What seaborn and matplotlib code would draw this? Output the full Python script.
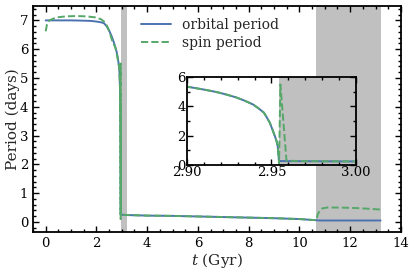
import numpy as np
import pandas as pd
import matplotlib
matplotlib.use("Agg")
import matplotlib.pyplot as plt
from matplotlib.ticker import MultipleLocator
import seaborn as sns

# values
orbit_t = [0.0, 0.5, 1.0, 1.5, 1.8, 2.0, 2.2, 2.3, 2.4, 2.5, 2.6, 2.7, 2.8, 2.85,
           2.90, 2.905, 2.91, 2.915, 2.919, 2.924, 2.929, 2.934, 2.939, 2.942,
           2.9455, 2.947, 2.949, 2.9505, 2.952, 2.953, 2.9537, 2.9542,
           2.9545, 2.96, 3.0, 3.2, 4.0, 5.0, 6.0, 7.0, 8.0, 9.0, 10.0, 10.67,
           10.8, 12.0, 13.2]
orbit_p = [7.0, 7.0, 7.0, 6.99, 6.98, 6.96, 6.93, 6.9, 6.8, 6.65, 6.45, 6.2, 5.9, 5.65,
           5.35, 5.25, 5.15, 5.04, 4.94, 4.79, 4.62, 4.4, 4.14, 3.9,
           3.58, 3.3, 2.9, 2.45, 1.98, 1.65, 1.3, 0.6,
           0.28, 0.27, 0.25, 0.24, 0.22, 0.21, 0.19, 0.17, 0.15, 0.13, 0.10, 0.06,
           0.05, 0.05, 0.05]

spin_t = [0.0, 0.05, 0.15, 0.4, 0.8, 1.2, 1.6, 2.0, 2.2, 2.35, 2.45, 2.55, 2.6, 2.65,
          2.7, 2.75, 2.8, 2.85, 2.90, 2.905, 2.91, 2.915, 2.919, 2.924, 2.929,
          2.934, 2.939, 2.942, 2.9455, 2.947, 2.949, 2.9505, 2.952, 2.953, 2.9537,
          2.9545, 2.9553, 2.9589, 2.97, 3.0, 3.2, 4.0, 5.0, 6.0,
          7.0, 8.0, 9.0, 10.0, 10.67, 10.72, 10.8, 10.9, 11.1, 11.5, 12.0, 12.5, 13.2]
spin_p = [6.62, 6.85, 7.0, 7.1, 7.14, 7.15, 7.14, 7.1, 7.03, 6.92, 6.75, 6.5, 6.35, 6.2,
          6.15, 6.05, 5.85, 5.6, 5.35, 5.25, 5.15, 5.04, 4.94, 4.79, 4.62,
          4.4, 4.14, 3.9, 3.58, 3.3, 2.9, 2.45, 1.98, 1.65, 1.3,
          0.1, 5.5, 0.3, 0.27, 0.25, 0.24, 0.22, 0.21, 0.19,
          0.17, 0.15, 0.13, 0.10, 0.06, 0.25, 0.4, 0.47, 0.5, 0.5, 0.49, 0.47, 0.43]

shade_spans = [(2.9545, 3.22), (10.67, 13.22)]

sns.set_style("ticks")
plt.rcParams["font.family"] = ["DejaVu Serif"]
plt.rcParams["mathtext.fontset"] = "dejavuserif"

blue = "#4c72b0"
green = "#55a868"

df_orb = pd.DataFrame({"t": orbit_t, "P": orbit_p})
df_spin = pd.DataFrame({"t": spin_t, "P": spin_p})


def style_axes(ax, fs):
    ax.tick_params(which="both", direction="in", top=True, right=True,
                   labelsize=fs, width=1.0, colors="black")
    ax.tick_params(which="major", length=4)
    ax.tick_params(which="minor", length=2)
    for s in ax.spines.values():
        s.set_linewidth(1.3)
        s.set_color("black")


def draw(ax, lw):
    for a, b in shade_spans:
        ax.axvspan(a, b, color="#c0c0c0", lw=0, zorder=0)
    sns.lineplot(data=df_orb, x="t", y="P", ax=ax, color=blue, lw=lw,
                 sort=False, estimator=None, label="orbital period")
    sns.lineplot(data=df_spin, x="t", y="P", ax=ax, color=green, lw=lw,
                 ls="--", sort=False, estimator=None, label="spin period")


fig = plt.figure(figsize=(4.15, 2.72), dpi=100)
ax = fig.add_axes([0.0795, 0.147, 0.8865, 0.831])
draw(ax, 1.4)
ax.set_xlim(-0.5, 14)
ax.set_ylim(-0.35, 7.5)
ax.xaxis.set_major_locator(MultipleLocator(2))
ax.xaxis.set_minor_locator(MultipleLocator(0.5))
ax.yaxis.set_major_locator(MultipleLocator(1))
ax.yaxis.set_minor_locator(MultipleLocator(0.2))
ax.set_xlabel(r"$t$ (Gyr)", fontsize=11, labelpad=1)
ax.set_ylabel("Period (days)", fontsize=11, labelpad=0)
style_axes(ax, 9.5)
ax.legend(loc="upper left", bbox_to_anchor=(0.27, 0.985), frameon=False,
          fontsize=10, handlelength=2.2, borderaxespad=0.2, labelspacing=0.3)

ins = fig.add_axes([0.4506, 0.393, 0.407, 0.3235])
draw(ins, 1.4)
ins.legend().remove()
ins.set_xlim(2.90, 3.00)
ins.set_ylim(0, 6)
ins.set_xticks([2.90, 2.95, 3.00])
ins.set_xticklabels(["2.90", "2.95", "3.00"])
ins.xaxis.set_minor_locator(MultipleLocator(0.01))
ins.set_yticks([0, 2, 4, 6])
ins.yaxis.set_minor_locator(MultipleLocator(1))
ins.set_xlabel("")
ins.set_ylabel("")
ins.set_facecolor("white")
style_axes(ins, 9.5)
ins.tick_params(axis="x", pad=1)
ins.tick_params(axis="y", pad=1)

fig.savefig("out.png", dpi=100)
